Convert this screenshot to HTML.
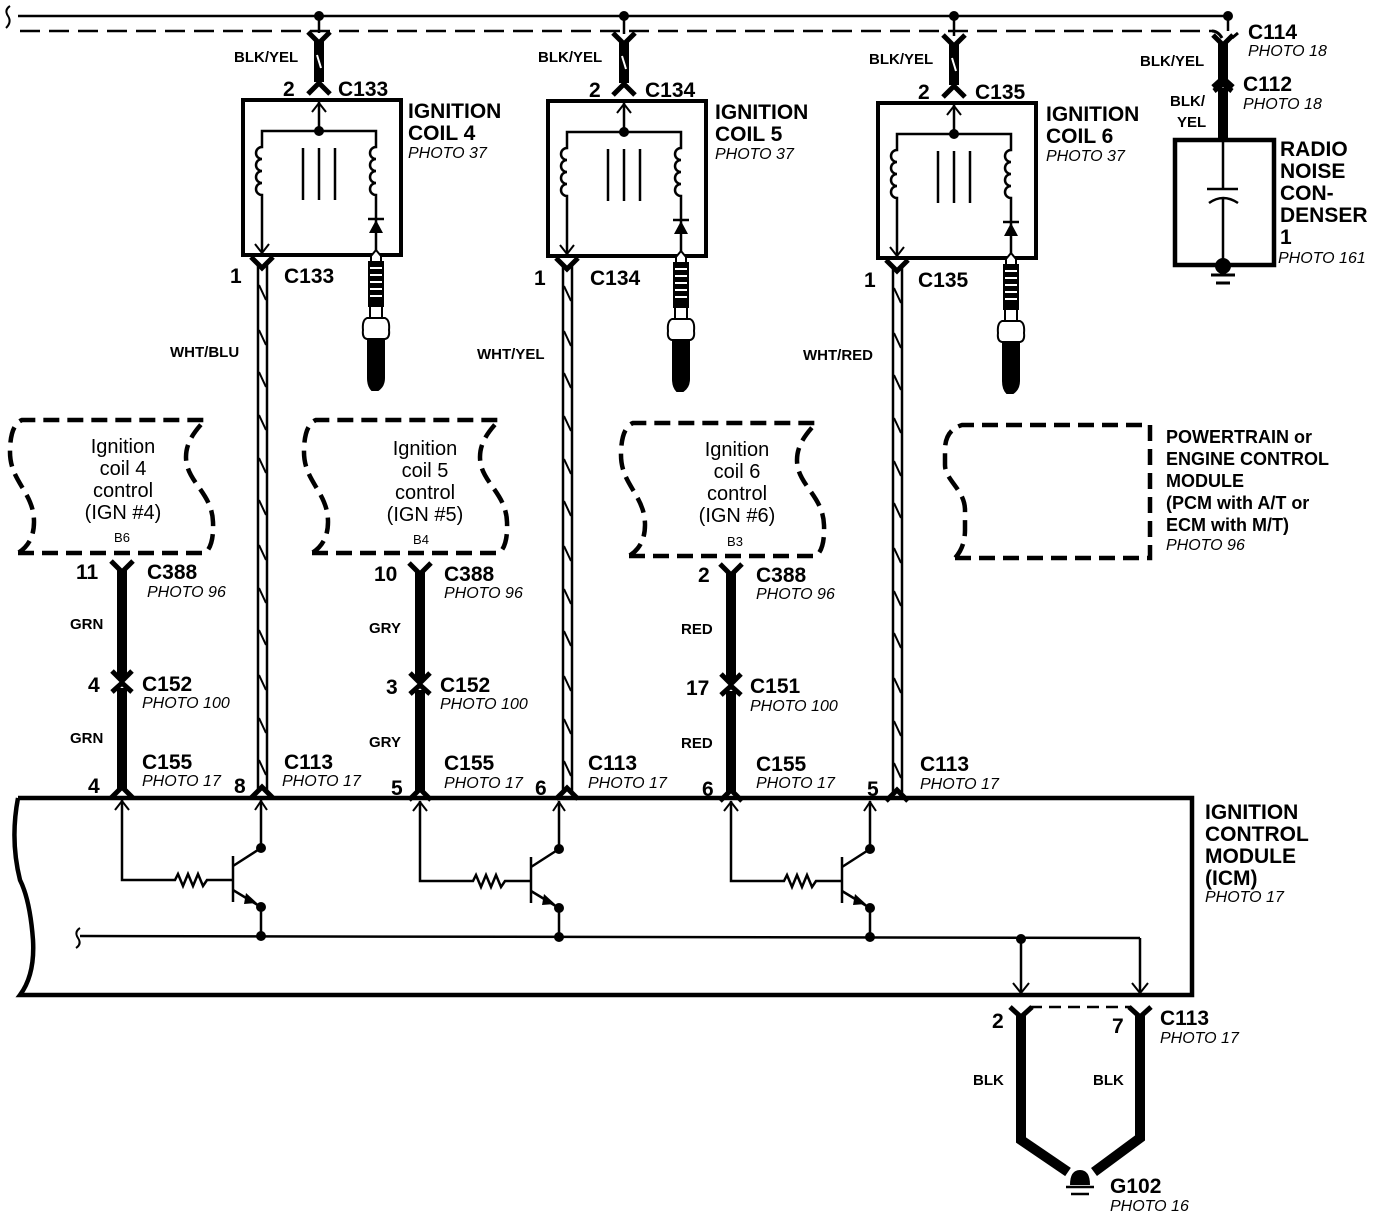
<!DOCTYPE html>
<html><head><meta charset="utf-8"><style>
html,body{margin:0;padding:0;background:#fff;}
svg{display:block;}
text{font-family:"Liberation Sans",sans-serif;fill:#000;}
.b{font-weight:bold;font-size:21px;}
.m{font-weight:bold;font-size:18px;}
.s{font-weight:bold;font-size:15px;}
.p{font-style:italic;font-size:16px;}
.n{font-size:20px;}
</style></head><body>
<svg width="1376" height="1218" viewBox="0 0 1376 1218" xmlns="http://www.w3.org/2000/svg">
<g fill="none" stroke="#000">
<path d="M10 6 Q4 10 8 16 Q12 22 6 28" stroke-width="2"/>
<line x1="18" y1="16" x2="1228" y2="16" stroke-width="2.5"/>
<line x1="20" y1="31" x2="1212" y2="31" stroke-width="2.5" stroke-dasharray="20 9"/>
</g>
<g fill="#000">
<circle cx="319" cy="16" r="5"/><circle cx="624" cy="16" r="5"/><circle cx="954" cy="16" r="5"/><circle cx="1228" cy="16" r="5"/>
</g>

<g id="coil">
<g fill="none" stroke="#000">
<line x1="319" y1="16" x2="319" y2="33" stroke-width="2.5"/>
<path d="M308 32 L319 43 L330 32" stroke-width="5"/>
<line x1="319" y1="40" x2="319" y2="82" stroke-width="10"/>
<line x1="317" y1="55" x2="321" y2="68" stroke="#fff" stroke-width="2"/>
<path d="M308 94 L319 83 L330 94" stroke-width="5"/>
<rect x="243" y="100" width="158" height="155" stroke-width="4"/>
<line x1="319" y1="102" x2="319" y2="131" stroke-width="2.5"/>
<path d="M312 112 L319 103 L326 112" stroke-width="2"/>
<path d="M262 253 V195 a6 6 0 0 1 0 -12 a6 6 0 0 1 0 -12 a6 6 0 0 1 0 -12 a6 6 0 0 1 0 -12 V131 H376 V147 a6 6 0 0 0 0 12 a6 6 0 0 0 0 12 a6 6 0 0 0 0 12 a6 6 0 0 0 0 12 V255" stroke-width="2.5"/>
<path d="M255 244 L262 253 L269 244" stroke-width="2"/>
<line x1="303" y1="148" x2="303" y2="200" stroke-width="2.5"/>
<line x1="319" y1="148" x2="319" y2="200" stroke-width="2.5"/>
<line x1="335" y1="148" x2="335" y2="200" stroke-width="2.5"/>
<line x1="368" y1="219" x2="384" y2="219" stroke-width="2.5"/>
<path d="M251 257 L262 268 L273 257" stroke-width="5"/>
<line x1="258" y1="265" x2="258" y2="790" stroke-width="2.5"/>
<line x1="267" y1="265" x2="267" y2="790" stroke-width="2.5"/>
</g>
<path d="M369 233 L383 233 L376 220 Z" fill="#000"/>
<circle cx="319" cy="131" r="5" fill="#000"/>
<g stroke="#000" fill="#fff" stroke-width="2">
<path d="M371 256 L376 250 L381 256 V262 H371 Z"/>
<rect x="369" y="262" width="14" height="44" fill="#000"/>
<line x1="370" y1="268" x2="382" y2="268" stroke="#fff"/><line x1="370" y1="275" x2="382" y2="275" stroke="#fff"/><line x1="370" y1="282" x2="382" y2="282" stroke="#fff"/><line x1="370" y1="289" x2="382" y2="289" stroke="#fff"/><line x1="370" y1="296" x2="382" y2="296" stroke="#fff"/>
<rect x="370" y="306" width="12" height="12"/>
<path d="M367 318 H385 Q390 320 389 330 Q390 338 385 339 H367 Q362 338 363 330 Q362 320 367 318 Z"/>
<path d="M368 339 H384 V378 Q384 386 378 390 H372 Q368 386 368 378 Z" fill="#000"/>
</g>
<g stroke="#000" stroke-width="2">
<line x1="259" y1="285" x2="266" y2="300"/><line x1="259" y1="330" x2="266" y2="345"/><line x1="259" y1="372" x2="266" y2="387"/><line x1="259" y1="415" x2="266" y2="430"/><line x1="259" y1="458" x2="266" y2="473"/><line x1="259" y1="500" x2="266" y2="515"/><line x1="259" y1="545" x2="266" y2="560"/><line x1="259" y1="588" x2="266" y2="603"/><line x1="259" y1="630" x2="266" y2="645"/><line x1="259" y1="675" x2="266" y2="690"/><line x1="259" y1="718" x2="266" y2="733"/><line x1="259" y1="760" x2="266" y2="775"/>
</g>
<path d="M251 798 L262 787 L273 798" stroke="#000" stroke-width="5" fill="none"/>
</g>
<use href="#coil" transform="translate(305,1)"/>
<use href="#coil" transform="translate(635,3)"/>

<g fill="none" stroke="#000" stroke-width="4.5" stroke-dasharray="16 8">
<path id="cb" d="M18 553 H205 Q214 546 213 522 C212 492 186 482 186 457 C186 440 198 428 205 420 H22 Q10 425 10 452 C10 482 34 492 34 522 Q34 543 18 553"/>
<use href="#cb" transform="translate(294,0)"/>
<use href="#cb" transform="translate(611,3)"/>
<path d="M955 558 H1150 V425 H962 Q945 430 945 450 V465 C945 480 965 490 965 510 V530 Q965 547 955 558"/>
</g>
<g id="tw" fill="none" stroke="#000">
<path d="M111 561 L122 572 L133 561" stroke-width="5"/>
<line x1="122" y1="570" x2="122" y2="678" stroke-width="10"/>
<path d="M112 671 L122 681 L132 671" stroke-width="5"/>
<path d="M112 692 L122 683 L132 692" stroke-width="5"/>
<line x1="122" y1="688" x2="122" y2="790" stroke-width="10"/>
<path d="M111 798 L122 787 L133 798" stroke-width="5"/>
</g>
<use href="#tw" transform="translate(298,2)"/>
<use href="#tw" transform="translate(609,3)"/>

<g fill="none" stroke="#000">
<path d="M18 798 H1192 V995 H20 Q35 975 33 940 Q30 900 20 880 Q10 840 18 798" stroke-width="4.5"/>
<path d="M80 928 Q74 932 78 938 Q82 944 76 948" stroke-width="2"/>
<line x1="80" y1="936" x2="1140" y2="938" stroke-width="2.5"/>
<line x1="1021" y1="938" x2="1021" y2="993" stroke-width="2.5"/>
<line x1="1140" y1="938" x2="1140" y2="993" stroke-width="2.5"/>
<path d="M1013 983 L1021 993 L1029 983" stroke-width="2"/>
<path d="M1132 983 L1140 993 L1148 983" stroke-width="2"/>
</g>
<g id="tr">
<g fill="none" stroke="#000" stroke-width="2.5">
<path d="M122 800 V880 H175 l3 -6 l5 12 l5 -12 l5 12 l5 -12 l5 12 l4 -6 H233"/>
<path d="M115 810 L122 801 L129 810" stroke-width="2"/>
<line x1="233" y1="856" x2="233" y2="902"/>
<path d="M233 866 L261 848 V800"/>
<path d="M255 810 L261 801 L267 810" stroke-width="2"/>
<path d="M233 890 L261 907 V936"/>
</g>
<path d="M246 893 L257 903 L244 904 Z" fill="#000"/>
<circle cx="261" cy="848" r="5"/><circle cx="261" cy="907" r="5"/><circle cx="261" cy="936" r="5"/>
</g>
<use href="#tr" transform="translate(298,1)"/>
<use href="#tr" transform="translate(609,1)"/>
<circle cx="1021" cy="939" r="5"/>

<g fill="none" stroke="#000">
<path d="M1010 1007 L1021 1017 L1032 1007" stroke-width="5"/>
<path d="M1129 1007 L1140 1017 L1151 1007" stroke-width="5"/>
<line x1="1030" y1="1007" x2="1131" y2="1007" stroke-width="2.5" stroke-dasharray="12 7"/>
<path d="M1021 1014 V1140 L1068 1172" stroke-width="10"/>
<path d="M1140 1014 V1138 L1094 1172" stroke-width="10"/>
<path d="M1066 1187 H1094 M1071 1194 H1089" stroke-width="2.5"/>
</g>
<path d="M1070 1185 Q1070 1170 1080 1170 Q1090 1170 1090 1185 Z" fill="#000"/>

<g fill="none" stroke="#000">
<line x1="1228" y1="16" x2="1228" y2="31" stroke-width="2.5"/>
<path d="M1212 31 Q1218 31 1222 38 M1232 38 L1238 33" stroke-width="3"/>
<path d="M1213 35 L1223 45 L1233 35" stroke-width="5"/>
<line x1="1223" y1="42" x2="1223" y2="80" stroke-width="10"/>
<path d="M1213 87 L1223 78 L1233 87" stroke-width="5"/>
<path d="M1214 91 L1223 84 L1232 91" stroke-width="5"/>
<line x1="1223" y1="88" x2="1223" y2="140" stroke-width="10"/>
<rect x="1175" y="140" width="99" height="125" stroke-width="4.5"/>
<path d="M1223 140 V189 M1207 189 H1238 M1209 203 Q1223 193 1238 203 M1223 197 V263" stroke-width="2.5"/>
<path d="M1211 275 H1235 M1216 283 H1230" stroke-width="3"/>
</g>
<circle cx="1223" cy="266" r="8" fill="#000"/>

<text class="s" x="234" y="62">BLK/YEL</text><text class="b" x="283" y="96">2</text><text class="b" x="338" y="96">C133</text>
<text class="b" x="408" y="118">IGNITION</text><text class="b" x="408" y="140">COIL 4</text><text class="p" x="408" y="158">PHOTO 37</text>
<text class="b" x="230" y="283">1</text><text class="b" x="284" y="283">C133</text><text class="s" x="170" y="357">WHT/BLU</text>

<text class="s" x="538" y="62">BLK/YEL</text><text class="b" x="589" y="97">2</text><text class="b" x="645" y="97">C134</text>
<text class="b" x="715" y="119">IGNITION</text><text class="b" x="715" y="141">COIL 5</text><text class="p" x="715" y="159">PHOTO 37</text>
<text class="b" x="534" y="285">1</text><text class="b" x="590" y="285">C134</text><text class="s" x="477" y="359">WHT/YEL</text>

<text class="s" x="869" y="64">BLK/YEL</text><text class="b" x="918" y="99">2</text><text class="b" x="975" y="99">C135</text>
<text class="b" x="1046" y="121">IGNITION</text><text class="b" x="1046" y="143">COIL 6</text><text class="p" x="1046" y="161">PHOTO 37</text>
<text class="b" x="864" y="287">1</text><text class="b" x="918" y="287">C135</text><text class="s" x="803" y="360">WHT/RED</text>

<g class="n" text-anchor="middle">
<text x="123" y="453">Ignition</text><text x="123" y="475">coil 4</text><text x="123" y="497">control</text><text x="123" y="519">(IGN #4)</text>
<text x="425" y="455">Ignition</text><text x="425" y="477">coil 5</text><text x="425" y="499">control</text><text x="425" y="521">(IGN #5)</text>
<text x="737" y="456">Ignition</text><text x="737" y="478">coil 6</text><text x="737" y="500">control</text><text x="737" y="522">(IGN #6)</text>
</g>
<g font-size="13" text-anchor="middle"><text x="122" y="542">B6</text><text x="421" y="544">B4</text><text x="735" y="546">B3</text></g>

<text class="m" x="1166" y="443">POWERTRAIN or</text><text class="m" x="1166" y="465">ENGINE CONTROL</text><text class="m" x="1166" y="487">MODULE</text><text class="m" x="1166" y="509">(PCM with A/T or</text><text class="m" x="1166" y="531">ECM with M/T)</text><text class="p" x="1166" y="550">PHOTO 96</text>

<text class="b" x="76" y="579">11</text><text class="b" x="147" y="579">C388</text><text class="p" x="147" y="597">PHOTO 96</text>
<text class="s" x="70" y="629">GRN</text><text class="b" x="88" y="692">4</text><text class="b" x="142" y="691">C152</text><text class="p" x="142" y="708">PHOTO 100</text>
<text class="s" x="70" y="743">GRN</text><text class="b" x="142" y="769">C155</text><text class="p" x="142" y="786">PHOTO 17</text>
<text class="b" x="88" y="793">4</text><text class="b" x="234" y="793">8</text><text class="b" x="284" y="769">C113</text><text class="p" x="282" y="786">PHOTO 17</text>

<text class="b" x="374" y="581">10</text><text class="b" x="444" y="581">C388</text><text class="p" x="444" y="598">PHOTO 96</text>
<text class="s" x="369" y="633">GRY</text><text class="b" x="386" y="694">3</text><text class="b" x="440" y="692">C152</text><text class="p" x="440" y="709">PHOTO 100</text>
<text class="s" x="369" y="747">GRY</text><text class="b" x="444" y="770">C155</text><text class="p" x="444" y="788">PHOTO 17</text>
<text class="b" x="391" y="795">5</text><text class="b" x="535" y="795">6</text><text class="b" x="588" y="770">C113</text><text class="p" x="588" y="788">PHOTO 17</text>

<text class="b" x="698" y="582">2</text><text class="b" x="756" y="582">C388</text><text class="p" x="756" y="599">PHOTO 96</text>
<text class="s" x="681" y="634">RED</text><text class="b" x="686" y="695">17</text><text class="b" x="750" y="693">C151</text><text class="p" x="750" y="711">PHOTO 100</text>
<text class="s" x="681" y="748">RED</text><text class="b" x="756" y="771">C155</text><text class="p" x="756" y="788">PHOTO 17</text>
<text class="b" x="702" y="796">6</text><text class="b" x="867" y="796">5</text><text class="b" x="920" y="771">C113</text><text class="p" x="920" y="789">PHOTO 17</text>

<text class="b" x="1205" y="819">IGNITION</text><text class="b" x="1205" y="841">CONTROL</text><text class="b" x="1205" y="863">MODULE</text><text class="b" x="1205" y="885">(ICM)</text><text class="p" x="1205" y="902">PHOTO 17</text>

<text class="b" x="992" y="1028">2</text><text class="b" x="1112" y="1033">7</text><text class="b" x="1160" y="1025">C113</text><text class="p" x="1160" y="1043">PHOTO 17</text>
<text class="s" x="973" y="1085">BLK</text><text class="s" x="1093" y="1085">BLK</text>
<text class="b" x="1110" y="1193">G102</text><text class="p" x="1110" y="1211">PHOTO 16</text>

<text class="b" x="1248" y="39">C114</text><text class="p" x="1248" y="56">PHOTO 18</text>
<text class="s" x="1140" y="66">BLK/YEL</text><text class="b" x="1243" y="91">C112</text><text class="p" x="1243" y="109">PHOTO 18</text>
<text class="s" x="1170" y="106">BLK/</text><text class="s" x="1177" y="127">YEL</text>
<text class="b" x="1280" y="156">RADIO</text><text class="b" x="1280" y="178">NOISE</text><text class="b" x="1280" y="200">CON-</text><text class="b" x="1280" y="222">DENSER</text><text class="b" x="1280" y="244">1</text><text class="p" x="1278" y="263">PHOTO 161</text>
</svg>
</body></html>
